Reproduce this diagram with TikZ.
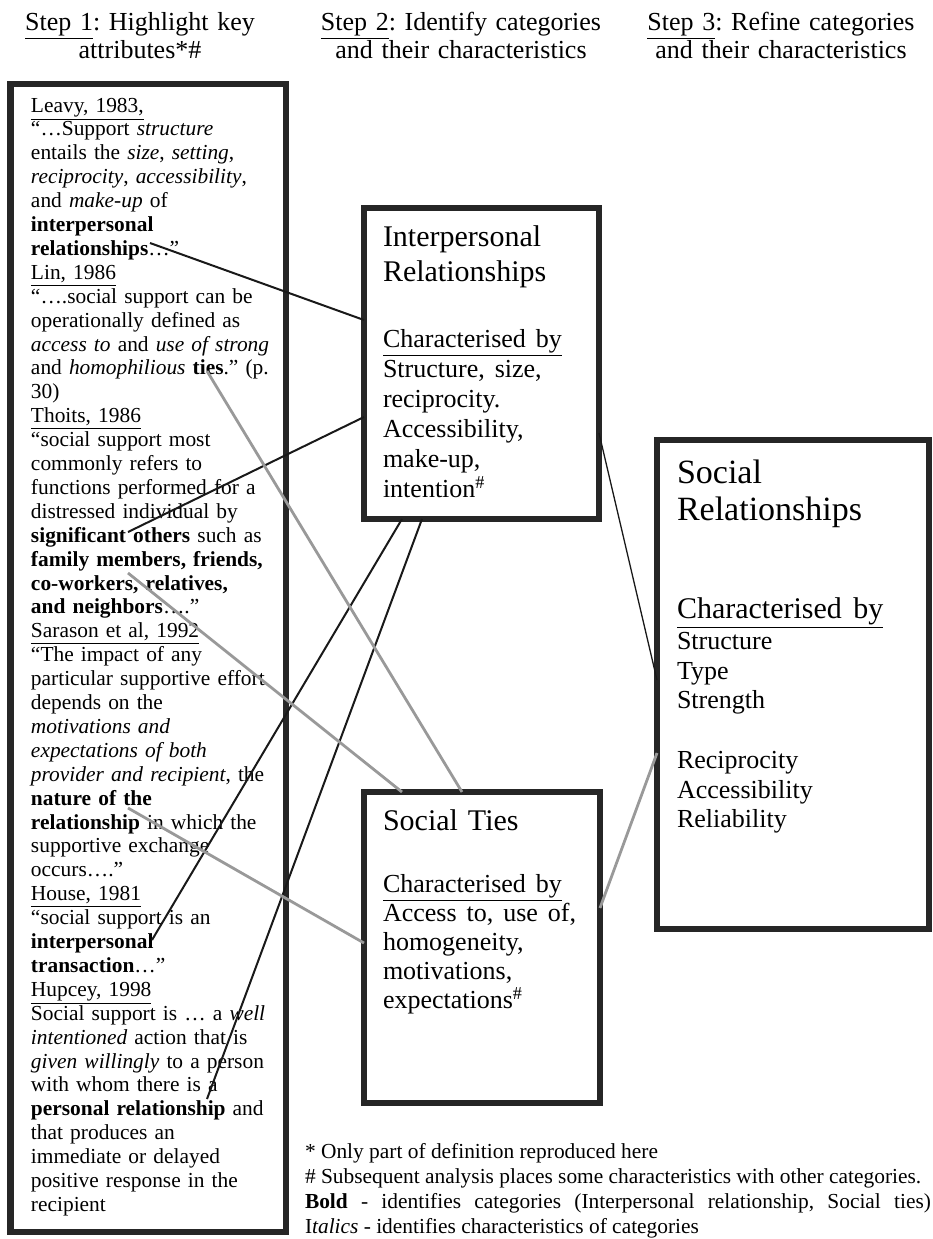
\documentclass[tikz,border=0pt]{standalone}
\usepackage{fontspec}
\setmainfont{Liberation Serif}
\frenchspacing
\definecolor{framegray}{rgb}{0.15,0.15,0.15}
\definecolor{linegray}{rgb}{0.6,0.6,0.6}

\begin{document}
\begin{tikzpicture}[x=0.5pt,y=-0.5pt,
  frame/.style={draw=framegray,line width=3.4pt,inner sep=0pt,outer sep=0pt,anchor=north west},
  boxtext/.style={anchor=base west,inner sep=0pt,outer sep=0pt,align=left},
  head/.style={anchor=base,inner sep=0pt,text width=160pt,align=center,font=\fontsize{13}{14}\selectfont},
  darkline/.style={draw=black!90,line width=1pt},
  lightline/.style={draw=linegray,line width=1.4pt}]
\useasboundingbox (0,0) rectangle (933,1239);

\node[head] (step1) at (140,30) {\underline{Step 1}: Highlight key\\attributes*\#};
\node[head] (step2) at (461,30) {\underline{Step 2}: Identify categories\\and their characteristics};
\node[head] (step3) at (781,30) {\underline{Step 3}: Refine categories\\and their characteristics};

\node[frame,minimum width=137.75pt,minimum height=574pt] (quotes) at (10.5,84) {};
\node[frame,minimum width=117.5pt,minimum height=155.5pt] (ir) at (364,208) {};
\node[frame,minimum width=118pt,minimum height=155.5pt] (st) at (364,792) {};
\node[frame,minimum width=136pt,minimum height=244.5pt] (sr) at (657,440) {};

\node[boxtext,text width=128pt,font=\fontsize{10.7}{11.95}\selectfont] (quotetext) at (31,112) {%
\underline{Leavy, 1983,}\\
“…Support \textit{structure}\\
entails the \textit{size}, \textit{setting},\\
\textit{reciprocity}, \textit{accessibility},\\
and \textit{make-up} of\\
\textbf{interpersonal}\\
\textbf{relationships}…”\\
\underline{Lin, 1986}\\
“….social support can be\\
operationally defined as\\
\textit{access to} and \textit{use of strong}\\
and \textit{homophilious} \textbf{ties}.” (p.\\
30)\\
\underline{Thoits, 1986}\\
“social support most\\
commonly refers to\\
functions performed for a\\
distressed individual by\\
\textbf{significant others} such as\\
\textbf{family members, friends,}\\
\textbf{co-workers, relatives,}\\
\textbf{and neighbors}….”\\
\underline{Sarason et al, 1992}\\
“The impact of any\\
particular supportive effort\\
depends on the\\
\textit{motivations and}\\
\textit{expectations of both}\\
\textit{provider and recipient}, the\\
\textbf{nature of the}\\
\textbf{relationship} in which the\\
supportive exchange\\
occurs….”\\
\underline{House, 1981}\\
“social support is an\\
\textbf{interpersonal}\\
\textbf{transaction}…”\\
\underline{Hupcey, 1998}\\
Social support is … a \textit{well}\\
\textit{intentioned} action that is\\
\textit{given willingly} to a person\\
with whom there is a\\
\textbf{personal relationship} and\\
that produces an\\
immediate or delayed\\
positive response in the\\
recipient};

\node[boxtext,text width=105pt,font=\fontsize{15}{17.5}\selectfont] (irtext) at (383,246) {%
Interpersonal\\Relationships\par\vspace{18pt}
{\fontsize{13}{15}\selectfont\underline{Characterised by}\\
Structure, size,\\
reciprocity.\\
Accessibility,\\
make-up,\\
intention\textsuperscript{\#}\par}};

\node[boxtext,text width=105pt,font=\fontsize{15}{17.5}\selectfont] (sttext) at (383,830) {%
Social Ties\par\vspace{16.5pt}
{\fontsize{13}{14.5}\selectfont\underline{Characterised by}\\
Access to, use of,\\
homogeneity,\\
motivations,\\
expectations\textsuperscript{\#}\par}};

\node[boxtext,text width=125pt,font=\fontsize{17}{18.5}\selectfont] (srtext) at (677,483) {%
Social\\Relationships\par\vspace{31pt}
{\fontsize{15}{18}\selectfont\underline{Characterised by}\par}\vspace{1pt}
{\fontsize{13}{14.8}\selectfont Structure\\
Type\\
Strength\\[15pt]
Reciprocity\\
Accessibility\\
Reliability\par}};

\node[boxtext,text width=313pt,align=justify,font=\fontsize{10.7}{12.5}\selectfont] (notes) at (305,1158) {%
* Only part of definition reproduced here\\
\# Subsequent analysis places some characteristics with other categories.\\
\textbf{Bold} - identifies categories (Interpersonal relationship, Social ties)\linebreak
I\textit{talics} - identifies characteristics of categories};

\coordinate (rel) at (150,243);
\coordinate (ties) at (207,371);
\coordinate (others) at (128,532);
\coordinate (members) at (128,573);
\coordinate (nature) at (128,808);
\coordinate (transaction) at (152,940);
\coordinate (personal) at (207,1099);
\coordinate (ir1) at ([shift={(0,112)}]ir.north west);
\coordinate (ir2) at ([shift={(0,209)}]ir.north west);
\coordinate (ir3) at ([shift={(38,0)}]ir.south west);
\coordinate (ir4) at ([shift={(58,0)}]ir.south west);
\coordinate (ir5) at ([shift={(0,225)}]ir.north east);
\coordinate (st1) at ([shift={(98,0)}]st.north west);
\coordinate (st2) at ([shift={(38,0)}]st.north west);
\coordinate (st3) at ([shift={(0,151)}]st.north west);
\coordinate (st4) at ([shift={(0,116)}]st.north east);
\coordinate (sr1) at ([shift={(0,240)}]sr.north west);
\coordinate (sr2) at ([shift={(0,313)}]sr.north west);

\foreach \a/\b in {rel/ir1,others/ir2,transaction/ir3,personal/ir4}
  \draw[darkline] (\a) -- (\b);
\foreach \a/\b in {ties/st1,members/st2,nature/st3,st4/sr2}
  \draw[lightline] (\a) -- (\b);
\draw[darkline,line width=0.65pt] (ir5) -- (sr1);

\end{tikzpicture}
\end{document}
